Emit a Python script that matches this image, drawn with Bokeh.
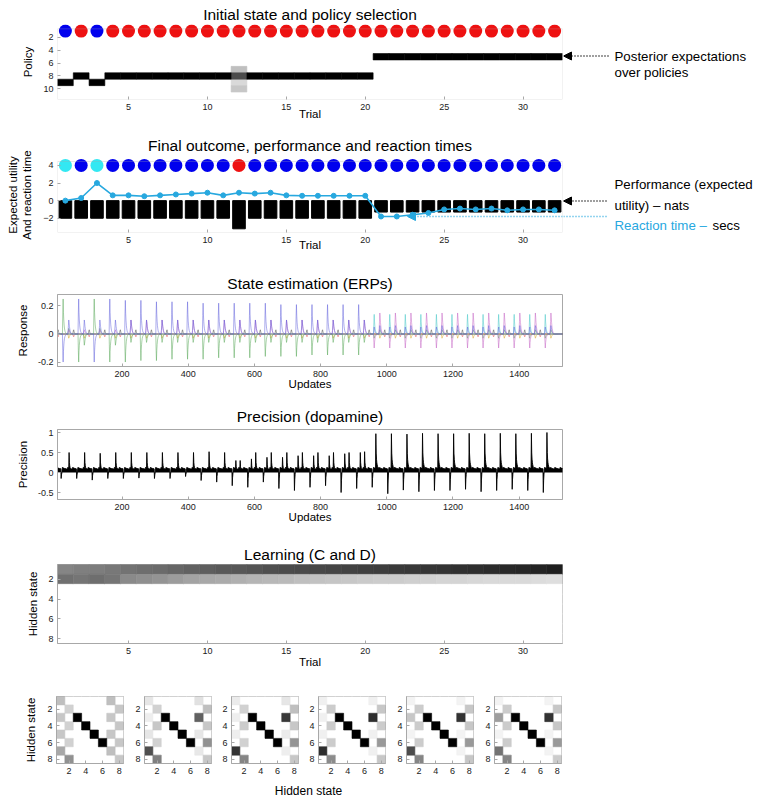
import numpy as np
from bokeh.plotting import figure
from bokeh.models import (Range1d, FixedTicker, PrintfTickFormatter, Arrow, Title,
                          NormalHead, BoxAnnotation, ColumnDataSource)
from bokeh.layouts import column, row
from bokeh.embed import file_html
from bokeh.resources import INLINE
from bokeh.transform import linear_cmap, factor_cmap
from bokeh.palettes import Greys256
from bokeh.core.properties import value

# ---------------- data ----------------
trials = list(range(1, 33))
trial_ticks = [5, 10, 15, 20, 25, 30]

initial_state = ["A", "B", "A"] + ["B"] * 29
policy_choice = [9, 8, 9] + [8] * 17 + [5] * 12
n_policies = 10
policy_ticks = [2, 4, 6, 8, 10]
trial12_posterior = {7: 0.25, 8: 0.70, 9: 0.15, 10: 0.22}

outcome = ["cue", "win", "cue"] + ["win"] * 8 + ["loss"] + ["win"] * 20
performance = [-2.0] * 11 + [-3.2] + [-2.0] * 8 + [-1.3] * 12
reaction_time = [0.0, 0.3, 2.0, 0.6, 0.6, 0.5, 0.6, 0.7, 0.8, 0.9, 0.6, 0.9, 0.8, 0.9,
                 0.6, 0.55, 0.55, 0.55, 0.55, 0.55, -1.8, -1.8, -1.6, -1.4, -1.0, -0.9,
                 -1.0, -0.9, -1.1, -1.0, -1.0, -1.1]
utility_ticks = [-2, 0, 2, 4]

# ERP amplitudes per trial for each epoch (e1, e2, e3)
erp_blue_e2 = [-0.20, 0.25, -0.20, 0.25, 0.24, 0.24, 0.23, 0.23, 0.23, 0.22, 0.22, 0.22,
               0.22, 0.22, 0.21, 0.21, 0.21, 0.21, 0.21, 0.21] + [0.05] * 12
erp_blue_e3 = [0.10] * 20 + [0.06] * 12
erp_green_e2 = [0.25, -0.20, 0.25, -0.20, -0.20, -0.19, -0.19, -0.18, -0.18, -0.18, -0.17,
                -0.17, -0.17, -0.16, -0.16, -0.16, -0.15, -0.15, -0.15, -0.15] + [-0.03] * 12
erp_green_e3 = [0.04, -0.08, 0.04, -0.08] + [-0.06] * 16 + [0.03] * 12
erp_magenta_e2 = [0.0] * 20 + [-0.10] * 12
erp_magenta_e3 = [0.03] * 4 + [0.10] * 16 + [0.15] * 12
erp_cyan_e2 = [0.0] * 20 + [0.14] * 12
erp_dark_e1 = [0.03] * 32
erp_red_e1 = [-0.02] * 32
erp_yellow_e3 = [-0.03] * 32
ERP_TRI = [0.0, 0.4, 0.8, 1.0, 0.6, 0.3, 0.1, 0.0, 0.0, 0.0, 0.0, 0.0, 0.0, 0.0, 0.0, 0.0]
ERP_SPIKE = [0.0, 0.6, 1.0, 0.62, 0.4, 0.26, 0.17, 0.11, 0.07, 0.05, 0.03, 0.02, 0.01, 0.0, 0.0, 0.0]
ERP_BUMP = [0.0, 0.25, 0.6, 1.0, 0.8, 0.55, 0.38, 0.25, 0.16, 0.1, 0.06, 0.03, 0.02, 0.01, 0.0, 0.0]
response_ticks = [-0.2, 0, 0.2]
update_ticks = [200, 400, 600, 800, 1000, 1200, 1400]

# precision (dopamine) per trial
prec_down = [-0.15, -0.15, -0.19, -0.15, -0.15, -0.14, -0.15, -0.15, -0.10, -0.20, -0.24,
             -0.33, -0.37, -0.24, -0.40, -0.45, -0.37, -0.33, -0.50, -0.40, -0.37, -0.53,
             -0.44, -0.48, -0.45, -0.45, -0.42, -0.48, -0.45, -0.42, -0.45, -0.50]
prec_up_a = [0.0] * 11 + [0.30, 0.34, 0.38, 0.38, 0.42, 0.42, 0.42, 0.47, 0.50] + \
            [0.97, 0.97, 0.96, 0.98, 0.97, 0.97, 0.98, 0.97, 0.98, 0.97, 0.98, 1.00]
prec_up_b = [0.50, 0.50, 0.48, 0.50, 0.50, 0.50, 0.50, 0.50, 0.50, 0.52, 0.50] + \
            [0.30, 0.50, 0.50, 0.50, 0.50, 0.50, 0.50, 0.50, 0.52] + [0.12] * 12
PREC_BASE = [0.13, 0.12, 0.12, 0.11, 0.11, 0.11, 0.10, 0.10, 0.10, 0.10, 0.10, 0.09, 0.09, 0.09, 0.09, 0.09]
UP_SHAPE = [1.0, 0.5, 0.34, 0.25, 0.2, 0.16, 0.13, 0.11]
DOWN_SHAPE = [1.0, 0.4, 0.12]
precision_ticks = [-0.5, 0, 0.5, 1]

# learning (D): darkness of hidden states 1 and 2 over trials
learn_state1 = [0.48, 0.50, 0.51, 0.53, 0.55, 0.57, 0.58, 0.60, 0.62, 0.63, 0.65, 0.66, 0.67,
                0.69, 0.70, 0.71, 0.72, 0.73, 0.74, 0.75, 0.76, 0.77, 0.78, 0.79, 0.80, 0.81,
                0.82, 0.83, 0.84, 0.85, 0.86, 0.88]
learn_state2 = [0.56, 0.54, 0.57, 0.54, 0.46, 0.44, 0.42, 0.39, 0.36, 0.34, 0.33, 0.31, 0.29,
                0.28, 0.27, 0.25, 0.24, 0.23, 0.22, 0.21, 0.20, 0.20, 0.19, 0.18, 0.17, 0.17,
                0.16, 0.15, 0.15, 0.15, 0.14, 0.13]
n_states = 8
state_ticks = [2, 4, 6, 8]

# six learned 8x8 matrices: columns 1,7 (rows 1,3,5,7) and 2,8 (rows 2,4,6,8); diagonal 3..6 black
B_col1 = [[.25, .22, .22, .34], [.10, .07, .10, .69], [.08, .07, .07, .80],
          [.06, .06, .06, .82], [.05, .22, .05, .70], [.05, .38, .05, .55]]
B_col2 = [[.18, .18, .18, .43], [.18, .22, .18, .50], [.18, .20, .18, .48],
          [.20, .20, .20, .45], [.20, .20, .20, .48], [.20, .20, .20, .48]]
B_col7 = [[.25, .22, .22, .25], [.12, .62, .10, .09], [.10, .78, .08, .07],
          [.06, .82, .06, .06], [.05, .80, .05, .05], [.05, .80, .05, .05]]
B_col8 = [[.22, .22, .22, .22], [.25, .22, .43, .22], [.25, .22, .42, .22],
          [.22, .20, .40, .22], [.22, .22, .40, .22], [.22, .22, .40, .20]]
B_diag = [3, 4, 5, 6]

# ---------------- styling ----------------
FONT = "Liberation Sans"
GRAY = "#a8a8a8"
CYAN = "#27a8df"
GREYS = list(reversed(Greys256))
W = 760
X0, X1 = 57, 562  # page x of the plot frames


def base(h, top, bottom, xr, yr, w=W, left=57, right=W - 562, title=None, standoff=5):
    p = figure(width=w, height=h, x_range=xr, y_range=yr, output_backend="svg",
               toolbar_location=None, tools="", title=None,
               min_border_left=left, min_border_right=right,
               min_border_top=top, min_border_bottom=bottom)
    p.xgrid.visible = False
    p.ygrid.visible = False
    p.outline_line_color = GRAY
    p.background_fill_color = "white"
    p.border_fill_color = "white"
    for ax in p.axis:
        ax.major_tick_in = 3
        ax.major_tick_out = 0
        ax.minor_tick_line_color = None
        ax.axis_line_color = GRAY
        ax.major_tick_line_color = GRAY
        ax.major_label_text_font = FONT
        ax.major_label_text_font_size = "9px"
        ax.major_label_text_color = "#1a1a1a"
        ax.major_label_standoff = 4
        ax.axis_label_text_font = FONT
        ax.axis_label_text_font_size = "11.5px"
        ax.axis_label_text_font_style = "normal"
        ax.axis_label_text_color = "black"
    if title:
        p.add_layout(Title(text=title, align="center", text_font=FONT, text_font_size="15.5px",
                           text_font_style="normal", text_color="black", standoff=standoff), "above")
    return p


def side(x0, x1, h, border_top, border_bottom, top_px, bot_px):
    """Text canvas next to a plot; its frame lines up with the plot frame, ranges = page pixels."""
    p = figure(width=x1 - x0, height=h, x_range=Range1d(x0, x1), y_range=Range1d(bot_px, top_px),
               output_backend="svg", toolbar_location=None, tools="", title=None,
               min_border_left=0, min_border_right=0, min_border_top=border_top,
               min_border_bottom=border_bottom, x_axis_type=None, y_axis_type=None,
               outline_line_color=None)
    p.background_fill_color = "white"
    p.border_fill_color = "white"
    return p


def txt(p, x, y, s, size="13.3px", color="black", align="left"):
    p.text(x=[x], y=[y], text=[s], text_font=value(FONT), text_font_size=size,
           text_color=color, text_align=align, text_baseline="alphabetic")


def arrow(p, xs, xe, y, color):
    p.add_layout(Arrow(end=NormalHead(size=8, fill_color=color, line_color=color, line_width=1),
                       x_start=xs, y_start=y, x_end=xe, y_end=y, line_color=color,
                       line_width=1.3, line_dash="1 2"))


def mapper(x0, x1):
    return lambda px: x0 + (px - X0) * (x1 - x0) / (X1 - X0)


def ymapper(top_px, bot_px, y_top, y_bot):
    return lambda py: y_top + (py - top_px) * (y_bot - y_top) / (bot_px - top_px)


fx = mapper(0.5, 32.5)

# ---------------- panel 1 (page y 0..125, frame 24..99) ----------------
Y1_TOP, Y1_BOT = -0.02, 11.66
f1 = base(125, 24, 26, Range1d(0.5, 32.5), Range1d(Y1_BOT, Y1_TOP), w=563, right=1,
          title="Initial state and policy selection", standoff=4)
f1.outline_line_color = None
f1.xaxis.axis_line_color = None
f1.yaxis.axis_line_color = None
f1.add_layout(BoxAnnotation(left=0.5, right=32.5, top=0.66, bottom=11.66,
                            fill_color=None, line_color=GRAY, line_width=1))
cells = []
for t, c in zip(trials, policy_choice):
    for k in range(1, n_policies + 1):
        if t == 12:
            v = trial12_posterior.get(k, 0.0)
        else:
            v = 1.0 if k == c else 0.0
        cells.append((v, t, k))
cells.sort()
src1 = ColumnDataSource(dict(x=[c[1] for c in cells], y=[c[2] for c in cells],
                             v=[c[0] for c in cells]))
cm1 = linear_cmap("v", GREYS, 0, 1)
f1.rect("x", "y", 1, 1, source=src1, fill_color=cm1, line_color=cm1, line_width=0.6)
src1b = ColumnDataSource(dict(x=trials, y=[1] * 32, s=initial_state))
f1.scatter("x", "y", source=src1b, size=13, line_color=None,
           fill_color=factor_cmap("s", ["#0000ee", "#ee1111"], ["A", "B"]))
f1.xaxis.ticker = FixedTicker(ticks=trial_ticks)
f1.yaxis.ticker = FixedTicker(ticks=policy_ticks)
f1.xaxis.axis_label = "Trial"
f1.xaxis.axis_label_standoff = -5
f1.yaxis.axis_label = "Policy"
f1.yaxis.axis_label_standoff = 6
a1 = side(563, W, 125, 24, 26, 24, 99)
txt(a1, 614, 55.5, "Posterior expectations")
txt(a1, 614, 72, "over policies")
arrow(a1, 608, 563, 55.5, "black")

# ---------------- panel 2 (page y 125..256, frame 157..232) ----------------
Y2_TOP, Y2_BOT = 4.9, -3.62
fy2 = ymapper(157, 232, Y2_TOP, Y2_BOT)
f2 = base(131, 32, 24, Range1d(0.5, 32.5), Range1d(Y2_BOT, Y2_TOP), w=563, right=1,
          title="Final outcome, performance and reaction times", standoff=8)
f2.outline_line_color = None
f2.xaxis.axis_line_color = None
f2.yaxis.axis_line_color = None
f2.add_layout(BoxAnnotation(left=0.5, right=32.5, top=4.45, bottom=Y2_BOT,
                            fill_color=None, line_color=GRAY, line_width=1))
f2.vbar(x=trials, top=0, bottom=performance, width=0.8, fill_color="black", line_color="black")
f2.line(trials, reaction_time, line_color=CYAN, line_width=1.6)
f2.scatter(trials, reaction_time, size=5, fill_color=CYAN, line_color=CYAN)
src2 = ColumnDataSource(dict(x=trials, y=[4] * 32, o=outcome))
f2.scatter("x", "y", source=src2, size=13, line_color=None,
           fill_color=factor_cmap("o", ["#33e8f2", "#0000ee", "#ee1111"], ["cue", "win", "loss"]))
f2.xaxis.ticker = FixedTicker(ticks=trial_ticks)
f2.yaxis.ticker = FixedTicker(ticks=utility_ticks)
f2.xaxis.axis_label = "Trial"
f2.xaxis.axis_label_standoff = -7
f2.yaxis.axis_label = "Expected utility\nAnd reaction time"
f2.yaxis.axis_label_text_font_size = "11.5px"
f2.yaxis.axis_label_standoff = 7
arrow(f2, fx(562), fx(407), fy2(216), CYAN)
a2 = side(563, W, 131, 32, 24, 157, 232)
txt(a2, 614, 184, "Performance (expected")
txt(a2, 614, 204.5, "utility) \u2013 nats")
txt(a2, 614, 224.5, "Reaction time \u2013", color=CYAN)
txt(a2, 712, 224.5, "secs")
arrow(a2, 606, 563, 200.5, "black")
a2.segment(x0=[563], y0=[216], x1=[607], y1=[216], line_color=CYAN, line_width=1.3, line_dash="1 2")

# ---------------- panel 3 (ERPs; page y 256..396, frame 294..366) ----------------
TAIL = 27


def erp_trace(e1, e2, e3):
    out = []
    for a, b, c in zip(e1, e2, e3):
        out += [a * v for v in ERP_TRI[:16]]
        out += [b * v for v in ERP_SPIKE[:16]]
        out += [c * v for v in ERP_BUMP[:15]]
    return out + [0.0] * TAIL


zeros = [0.0] * 32
traces = [
    ("#d9a521", zeros, zeros, erp_yellow_e3),
    ("#e04a4a", erp_red_e1, zeros, zeros),
    ("#4a4a4a", erp_dark_e1, zeros, zeros),
    ("#5aa85a", zeros, erp_green_e2, erp_green_e3),
    ("#c565c5", zeros, erp_magenta_e2, erp_magenta_e3),
    ("#45c8c8", zeros, erp_cyan_e2, zeros),
    ("#6464dc", zeros, erp_blue_e2, erp_blue_e3),
]
UX0, UX1 = 5, 1531
f3 = base(140, 38, 30, Range1d(UX0, UX1), Range1d(-0.232, 0.282),
          title="State estimation (ERPs)", standoff=5)
for col, e1, e2, e3 in traces:
    yv = erp_trace(e1, e2, e3)
    xv = (np.arange(len(yv)) + 4).tolist()
    f3.line(xv, yv, line_color=col, line_width=0.7, line_alpha=0.75)
f3.xaxis.ticker = FixedTicker(ticks=update_ticks)
f3.yaxis.ticker = FixedTicker(ticks=response_ticks)
f3.yaxis.formatter = PrintfTickFormatter(format="%g")
f3.xaxis.axis_label = "Updates"
f3.xaxis.axis_label_standoff = -2
f3.yaxis.axis_label = "Response"
f3.yaxis.axis_label_standoff = 6

# ---------------- panel 4 (precision; page y 396..528, frame 429..499) ----------------


def precision_trace():
    vals = []
    for d, ua, ub in zip(prec_down, prec_up_a, prec_up_b):
        seg = (PREC_BASE * 3)[:47]
        for k, f in enumerate(DOWN_SHAPE):
            seg[12 + k] = d * f
        for s0, a in ((23, ua), (36, ub)):
            for k, f in enumerate(UP_SHAPE):
                seg[s0 + k] = max(seg[s0 + k], a * f)
        vals += seg
    return vals + (PREC_BASE * 2)[:TAIL]


f4 = base(132, 33, 29, Range1d(UX0, UX1), Range1d(-0.675, 1.075),
          title="Precision (dopamine)", standoff=10)
pv = precision_trace()
px_ = (np.arange(len(pv)) + 4).tolist()
f4.varea(x=px_, y1=[0.0] * len(pv), y2=pv, fill_color="black")
f4.line(px_, pv, line_color="black", line_width=0.9)
f4.xaxis.ticker = FixedTicker(ticks=update_ticks)
f4.yaxis.ticker = FixedTicker(ticks=precision_ticks)
f4.yaxis.formatter = PrintfTickFormatter(format="%g")
f4.xaxis.axis_label = "Updates"
f4.xaxis.axis_label_standoff = -2
f4.yaxis.axis_label = "Precision"
f4.yaxis.axis_label_standoff = 6

# ---------------- panel 5 (learning; page y 528..674, frame 564..643) ----------------
f5 = base(146, 36, 31, Range1d(0.5, 32.5), Range1d(8.5, 0.5),
          title="Learning (C and D)", standoff=4)
lx, ly, lv = [], [], []
for t in trials:
    for s in range(1, n_states + 1):
        v = learn_state1[t - 1] if s == 1 else (learn_state2[t - 1] if s == 2 else 0.0)
        lx.append(t); ly.append(s); lv.append(v)
cm5 = linear_cmap("v", GREYS, 0, 1)
f5.rect("x", "y", 1, 1, source=ColumnDataSource(dict(x=lx, y=ly, v=lv)),
        fill_color=cm5, line_color=cm5, line_width=0.6)
f5.xaxis.ticker = FixedTicker(ticks=trial_ticks)
f5.yaxis.ticker = FixedTicker(ticks=state_ticks)
f5.xaxis.axis_label = "Trial"
f5.xaxis.axis_label_standoff = -1
f5.yaxis.axis_label = "Hidden state"
f5.yaxis.axis_label_standoff = 6

# ---------------- matrices (page y 674..780, frames 696..763) ----------------
m_left = [56, 20, 19, 19, 20, 20]
mats = []
for i, L in enumerate(m_left):
    m = base(106, 22, 17, Range1d(0.5, 8.5), Range1d(8.5, 0.5), w=L + 67 + 1, left=L, right=1)
    mx, my, mv = [], [], []
    for r in range(1, 9):
        for c in range(1, 9):
            v = 0.0
            if c == 1 and r % 2 == 1:
                v = B_col1[i][(r - 1) // 2]
            elif c == 2 and r % 2 == 0:
                v = B_col2[i][(r - 2) // 2]
            elif c == 7 and r % 2 == 1:
                v = B_col7[i][(r - 1) // 2]
            elif c == 8 and r % 2 == 0:
                v = B_col8[i][(r - 2) // 2]
            if r == c and r in B_diag:
                v = 1.0
            mx.append(c); my.append(r); mv.append(v)
    order = np.argsort(mv, kind="stable")
    cmm = linear_cmap("v", GREYS, 0, 1)
    m.rect("x", "y", 1, 1, source=ColumnDataSource(dict(
        x=[mx[k] for k in order], y=[my[k] for k in order], v=[mv[k] for k in order])),
        fill_color=cmm, line_color=cmm, line_width=0.6)
    m.xaxis.ticker = FixedTicker(ticks=state_ticks)
    m.yaxis.ticker = FixedTicker(ticks=state_ticks)
    m.xaxis.major_label_standoff = 4
    if i == 0:
        m.yaxis.axis_label = "Hidden state"
        m.yaxis.axis_label_standoff = 7
    mats.append(m)

# shared x label of the matrices (frame lines up with the plot frames above)
fl = figure(width=W, height=17, x_range=Range1d(X0, X1), y_range=Range1d(797, 780),
            output_backend="svg", toolbar_location=None, tools="", title=None,
            min_border_left=X0, min_border_right=W - X1, min_border_top=0, min_border_bottom=0,
            x_axis_type=None, y_axis_type=None, outline_line_color=None)
fl.background_fill_color = "white"
fl.border_fill_color = "white"
txt(fl, 308, 790, "Hidden state", "12px", align="center")

layout = column(row(f1, a1), row(f2, a2), f3, f4, f5, row(*mats), fl)
open("out.html", "w").write(file_html(layout, INLINE))
